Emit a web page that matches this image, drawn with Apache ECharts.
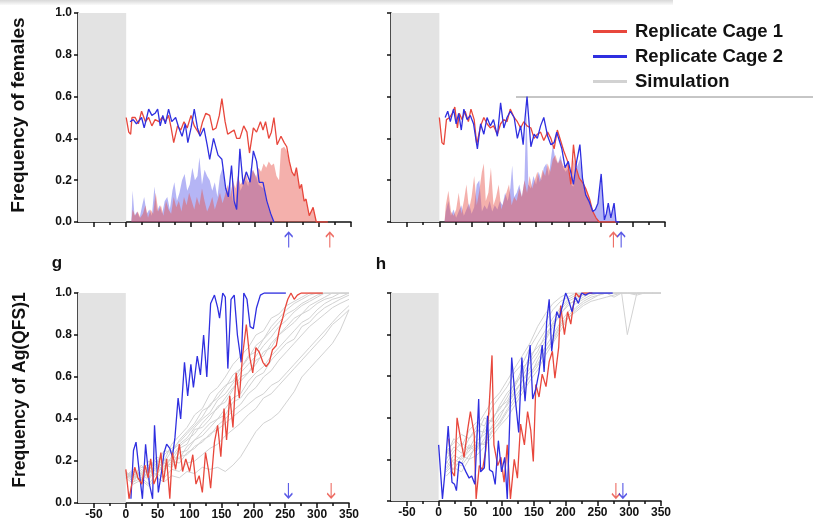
<!DOCTYPE html>
<html><head><meta charset="utf-8">
<script src="https://cdn.jsdelivr.net/npm/echarts@6/dist/echarts.min.js"></script>
<style>html,body{margin:0;padding:0;background:#fff}#c{width:813px;height:524px}</style>
</head><body><div id="c"></div><script>
// ---------- tick labels ----------
const majorTicks = [-50,0,50,100,150,200,250,300,350];
const minorTicks = [-25,25,75,125,175,225,275,325];
const legendNames = ['Replicate Cage 1','Replicate Cage 2','Simulation'];

// ---------- top-left: frequency of females ----------
const femCage1Left = [[0,.50],[4,.43],[7,.42],[9,.50],[14,.50],[19,.47],[24,.53],[30,.48],[35,.50],[40,.46],[45,.49],[51,.48],[56,.50],[61,.48],[66,.51],[70,.45],[74,.38],[80,.46],[85,.44],[90,.48],[95,.45],[101,.51],[106,.46],[114,.42],[119,.48],[124,.52],[130,.51],[135,.44],[140,.45],[145,.51],[149,.59],[154,.48],[158,.42],[163,.43],[168,.44],[172,.40],[177,.40],[183,.46],[188,.43],[192,.33],[198,.45],[203,.43],[209,.48],[213,.44],[217,.48],[222,.40],[226,.43],[230,.50],[235,.37],[241,.41],[246,.38],[250,.36],[254,.29],[258,.24],[262,.22],[265,.26],[270,.16],[273,.18],[277,.10],[280,.11],[285,.03],[291,.07],[296,0],[314,0]];
const femCage2Left = [[6,.48],[11,.49],[16,.47],[19,.48],[24,.50],[28,.45],[32,.50],[35,.54],[40,.51],[45,.52],[49,.54],[53,.46],[57,.51],[61,.47],[66,.54],[71,.48],[77,.50],[82,.45],[87,.41],[92,.47],[96,.38],[101,.45],[106,.54],[111,.45],[115,.41],[121,.45],[126,.37],[130,.30],[136,.40],[143,.32],[149,.30],[155,.16],[159,.12],[164,.27],[168,.10],[172,.06],[177,.35],[182,.18],[187,.24],[193,.19],[198,.34],[203,.29],[207,.19],[213,.19],[219,.10],[225,.04],[230,0]];
const femAreaCage1Left = [[8,0],[10,.06],[14,.03],[18,.05],[22,.02],[26,.04],[30,.08],[34,.02],[38,.06],[42,.04],[46,.14],[50,.05],[54,.08],[58,.03],[62,.10],[66,.06],[70,.04],[74,.12],[78,.07],[82,.10],[86,.05],[90,.12],[94,.08],[98,.14],[102,.10],[106,.06],[110,.12],[114,.08],[118,.16],[122,.10],[126,.05],[130,.08],[134,.12],[138,.06],[142,.10],[146,.14],[150,.09],[154,.13],[158,.18],[162,.12],[166,.20],[170,.16],[174,.22],[178,.18],[182,.20],[186,.24],[190,.19],[194,.22],[198,.25],[202,.21],[206,.26],[210,.24],[214,.28],[218,.26],[222,.29],[226,.27],[230,.28],[234,.22],[238,.20],[241,.35],[246,.36],[250,.34],[254,.29],[258,.24],[262,.22],[265,.26],[270,.16],[273,.18],[277,.10],[280,.11],[285,.03],[291,.07],[296,0]];
const femAreaCage2Left = [[8,0],[10,.15],[13,.03],[17,.05],[21,.02],[25,.08],[28,.12],[32,.04],[36,.06],[40,.03],[44,.17],[48,.05],[52,.08],[56,.04],[60,.10],[64,.12],[68,.06],[72,.15],[75,.19],[79,.10],[83,.14],[87,.20],[91,.23],[95,.15],[99,.18],[103,.26],[107,.20],[111,.22],[114,.31],[118,.18],[122,.25],[126,.22],[130,.20],[134,.15],[138,.19],[142,.12],[146,.22],[150,.26],[154,.18],[158,.14],[162,.20],[166,.10],[170,.08],[174,.22],[178,.15],[182,.18],[186,.20],[190,.17],[194,.26],[198,.24],[202,.22],[206,.18],[210,.17],[214,.16],[218,.10],[222,.06],[226,.03],[230,0]];

// ---------- top-right: frequency of females ----------
const femCage1Right = [[0,.50],[4,.38],[7,.37],[11,.49],[16,.50],[20,.52],[24,.55],[28,.45],[31,.52],[35,.49],[40,.53],[45,.48],[49,.54],[54,.49],[58,.37],[64,.46],[69,.50],[74,.47],[79,.45],[84,.46],[90,.42],[95,.47],[100,.49],[105,.48],[110,.54],[116,.50],[121,.48],[126,.45],[131,.48],[136,.46],[142,.45],[147,.40],[152,.42],[157,.43],[162,.39],[168,.43],[173,.40],[178,.35],[183,.44],[188,.39],[193,.34],[199,.29],[204,.18],[208,.37],[212,.26],[217,.21],[222,.19],[227,.16],[233,.11],[238,.05],[243,.02],[248,0],[276,0]];
const femCage2Right = [[9,.50],[13,.53],[17,.48],[22,.54],[26,.47],[30,.52],[34,.44],[38,.54],[43,.49],[48,.51],[53,.47],[59,.35],[64,.47],[69,.42],[74,.50],[79,.46],[84,.49],[90,.41],[95,.57],[100,.45],[105,.50],[110,.53],[116,.50],[121,.40],[126,.46],[130,.37],[133,.50],[136,.60],[142,.36],[147,.42],[152,.40],[157,.46],[162,.50],[168,.41],[173,.37],[178,.38],[182,.43],[186,.39],[190,.35],[195,.26],[200,.29],[208,.18],[213,.29],[218,.37],[222,.21],[227,.13],[232,.10],[238,.05],[242,.06],[246,.09],[251,.23],[256,.01],[259,.04],[262,.09],[266,.02],[271,.09],[274,0],[279,0]];
const femAreaCage1Right = [[8,0],[10,.08],[14,.15],[18,.05],[22,.03],[26,.06],[30,.14],[34,.04],[38,.10],[42,.18],[46,.06],[50,.12],[54,.22],[58,.08],[62,.15],[66,.24],[69,.28],[72,.10],[76,.14],[80,.26],[84,.08],[88,.12],[92,.18],[96,.06],[100,.10],[104,.14],[108,.18],[112,.08],[116,.12],[120,.10],[124,.16],[128,.12],[132,.20],[136,.14],[140,.22],[144,.16],[148,.20],[152,.24],[156,.19],[160,.25],[164,.22],[168,.28],[172,.24],[176,.30],[180,.32],[184,.28],[188,.30],[192,.27],[196,.26],[200,.28],[204,.18],[208,.30],[212,.26],[217,.21],[222,.19],[227,.16],[233,.11],[238,.05],[243,.02],[248,0]];
const femAreaCage2Right = [[8,0],[10,.05],[14,.10],[18,.03],[22,.06],[26,.02],[30,.05],[34,.08],[38,.03],[42,.06],[46,.09],[50,.04],[54,.07],[58,.18],[62,.20],[66,.05],[70,.08],[74,.06],[78,.10],[82,.05],[86,.08],[90,.06],[94,.10],[98,.08],[102,.14],[106,.10],[110,.16],[113,.27],[116,.12],[120,.14],[124,.18],[128,.12],[132,.20],[135,.55],[138,.18],[142,.16],[146,.22],[150,.18],[154,.24],[158,.20],[162,.26],[166,.28],[170,.22],[173,.30],[176,.37],[180,.30],[184,.28],[188,.32],[192,.26],[196,.24],[200,.26],[204,.18],[208,.17],[213,.26],[218,.30],[222,.20],[227,.13],[232,.10],[238,.05],[242,.06],[246,.09],[251,.20],[256,.01],[259,.04],[262,.08],[266,.02],[271,.08],[274,0]];

// ---------- g: frequency of Ag(QFS)1 ----------
const agCage1G = [[0,.16],[5,.02],[10,.10],[14,.17],[19,.12],[25,.09],[30,.18],[35,.12],[39,.21],[44,.09],[49,.13],[55,.24],[59,.10],[64,.21],[69,.02],[73,.24],[78,.16],[84,.28],[89,.15],[94,.21],[100,.15],[105,.23],[110,.09],[115,.13],[120,.05],[125,.24],[130,.15],[133,.07],[139,.29],[144,.37],[149,.22],[154,.45],[158,.30],[163,.51],[168,.36],[173,.62],[178,.50],[183,.70],[189,.85],[194,.70],[199,.62],[204,.74],[209,.72],[215,.67],[220,.65],[225,.67],[230,.73],[236,.75],[241,.83],[246,.88],[250,.93],[254,.97],[259,1],[264,.97],[269,.99],[275,1],[309,1]];
const agCage2G = [[8,.02],[12,.25],[16,.29],[21,.15],[26,.02],[31,.28],[37,.09],[42,.02],[45,.37],[51,.05],[56,.15],[60,.24],[64,.28],[69,.26],[73,.22],[77,.31],[82,.50],[86,.40],[92,.67],[97,.51],[102,.66],[106,.55],[112,.70],[117,.61],[122,.80],[127,.60],[133,.95],[139,.99],[144,.93],[147,.88],[152,1],[156,.98],[160,.64],[165,.97],[170,.99],[175,.80],[181,.67],[185,1],[190,.97],[195,.84],[200,.83],[205,.93],[211,.99],[217,1],[251,1]];
const simDaysG = [0,12,24,36,48,60,72,84,96,108,120,132,144,156,168,180,192,204,216,228,240,252,264,276,288,300,312,324,336,350];
const simG = [
 [.14,.12,.18,.15,.22,.20,.28,.32,.36,.42,.45,.52,.55,.60,.66,.70,.74,.80,.82,.88,.90,.94,.96,.98,1,1,1,1,1,1],
 [.12,.15,.13,.20,.18,.25,.24,.30,.34,.38,.44,.46,.52,.56,.58,.64,.70,.72,.78,.82,.86,.90,.92,.95,.97,.99,1,1,1,1],
 [.15,.10,.16,.14,.19,.17,.22,.27,.30,.33,.38,.42,.45,.50,.55,.58,.62,.68,.70,.76,.80,.84,.88,.90,.94,.96,.98,1,1,1],
 [.13,.16,.12,.17,.15,.21,.20,.26,.28,.35,.36,.40,.46,.48,.54,.60,.62,.66,.72,.74,.80,.83,.86,.90,.92,.95,.97,.98,1,1],
 [.14,.11,.15,.12,.18,.16,.22,.21,.27,.30,.34,.38,.40,.45,.50,.52,.58,.62,.65,.70,.74,.78,.82,.86,.88,.92,.95,.97,.98,1],
 [.12,.14,.10,.16,.13,.19,.18,.24,.25,.30,.32,.36,.40,.42,.48,.50,.55,.60,.62,.68,.72,.76,.78,.84,.86,.90,.93,.95,.97,.99],
 [.15,.12,.14,.11,.17,.15,.20,.19,.24,.26,.30,.32,.37,.40,.44,.47,.52,.55,.60,.63,.68,.72,.76,.80,.84,.87,.90,.93,.95,.97],
 [.13,.10,.12,.09,.14,.12,.16,.15,.19,.20,.23,.26,.28,.32,.35,.38,.42,.45,.50,.52,.56,.60,.64,.68,.72,.76,.80,.85,.88,.92],
 [.12,.09,.11,.08,.12,.10,.13,.12,.15,.14,.17,.16,.17,.15,.18,.22,.28,.34,.38,.40,.43,.48,.53,.60,.64,.68,.72,.76,.82,.92],
 [.14,.13,.17,.16,.20,.19,.25,.28,.31,.36,.40,.43,.49,.52,.57,.62,.66,.70,.75,.79,.84,.87,.91,.94,.96,.98,1,1,1,1],
 [.12,.13,.11,.15,.14,.18,.17,.22,.23,.27,.29,.33,.35,.38,.41,.44,.47,.50,.52,.56,.58,.62,.66,.70,.74,.78,.82,.86,.90,.94],
 [.13,.15,.14,.18,.20,.23,.26,.29,.33,.37,.41,.47,.50,.55,.61,.64,.69,.75,.78,.84,.88,.92,.95,.97,.99,1,1,1,1,1]
];

// ---------- h: frequency of Ag(QFS)1 ----------
const agCage1H = [[16,.30],[21,.14],[25,.12],[29,.40],[35,.29],[40,.21],[45,.33],[50,.43],[56,.32],[59,.01],[64,.17],[69,.15],[74,.24],[79,.43],[84,.70],[87,.27],[93,.17],[98,.21],[103,.09],[108,.27],[113,.01],[119,.20],[124,.11],[129,.37],[135,.27],[140,.43],[145,.34],[149,.19],[153,.56],[158,.50],[163,.61],[169,.55],[174,.67],[179,.72],[183,.59],[189,.74],[192,.94],[198,.80],[203,.91],[208,.85],[212,.94],[216,1],[221,.98],[226,1],[232,1],[242,1]];
const agCage2H = [[0,.27],[6,.01],[10,.14],[15,.36],[21,.09],[25,.08],[28,.05],[32,.19],[37,.18],[43,.14],[48,.11],[52,.12],[57,.08],[63,.49],[66,.14],[72,.16],[77,.41],[80,.15],[85,.14],[89,.08],[94,.29],[99,.14],[104,.21],[108,.01],[115,.69],[120,.51],[126,.33],[131,.69],[136,.48],[140,.64],[144,.75],[148,.49],[153,.54],[158,.62],[163,.75],[166,.62],[170,.86],[174,.97],[178,.72],[182,.83],[186,.91],[190,.88],[195,.94],[200,1],[204,.97],[210,.91],[215,.98],[220,.95],[225,1],[231,.99],[237,1],[274,1]];
const simDaysH = [12,24,36,48,60,72,84,96,108,120,132,144,156,168,180,192,204,216,228,240,252,264,276,288,297,312,324,336,350];
const simH = [
 [.22,.30,.26,.34,.38,.36,.45,.50,.55,.62,.66,.74,.80,.86,.92,.96,.98,1,1,1,1,1,1,1,1,1,1,1,1],
 [.18,.24,.28,.25,.32,.40,.38,.46,.52,.56,.64,.68,.76,.82,.88,.93,.97,.99,1,1,1,1,1,1,1,1,1,1,1],
 [.15,.20,.18,.26,.24,.30,.36,.42,.46,.52,.58,.64,.70,.77,.84,.90,.94,.97,.99,1,1,1,1,1,1,1,1,1,1],
 [.25,.18,.22,.20,.28,.27,.33,.38,.44,.50,.55,.60,.68,.74,.80,.86,.91,.95,.97,.99,1,1,1,1,1,1,1,1,1],
 [.12,.16,.14,.20,.22,.26,.31,.36,.40,.46,.52,.58,.63,.70,.76,.82,.88,.92,.95,.97,.99,1,1,1,.80,1,1,1,1],
 [.20,.26,.23,.30,.34,.33,.40,.44,.50,.57,.60,.67,.72,.80,.85,.90,.95,.96,.98,1,1,1,1,1,1,1,1,1,1],
 [.16,.22,.20,.24,.29,.32,.35,.40,.47,.53,.58,.62,.66,.72,.78,.85,.89,.93,.96,.98,.99,1,.98,1,1,1,1,1,1],
 [.24,.28,.32,.30,.36,.42,.48,.52,.58,.64,.70,.76,.84,.90,.95,.98,1,1,1,1,1,1,1,1,1,1,1,1,1],
 [.14,.18,.17,.22,.26,.28,.34,.37,.43,.48,.54,.60,.65,.72,.77,.84,.88,.91,.94,.96,.97,.98,.99,1,1,.99,1,1,1],
 [.19,.15,.21,.27,.25,.35,.39,.45,.48,.55,.62,.70,.74,.78,.86,.92,.96,.98,1,1,1,1,1,1,1,1,1,1,1]
];

// ---------- arrow (day) markers: [cage1, cage2] per panel ----------
const arrowDaysTopLeft = [317, 253];
const arrowDaysTopRight = [270, 282];
const arrowDaysG = [322, 255];
const arrowDaysH = [279, 290];

// ---------- styling ----------
const RED = '#e8473c', BLUE = '#2f2fe0', GRAY = '#d2d2d2';
const FONT = 'Liberation Sans, Arial, sans-serif';
const AX = {color:'#111', width:1.5};

const grids = [
  {left:78, top:13, width:273, height:209},
  {left:391, top:13, width:274, height:209},
  {left:78, top:293, width:271, height:210},
  {left:391, top:293, width:270, height:208}
];
const xAxes = [], yAxes = [];
for (let i = 0; i < 4; i++) {
  const bottomRow = i >= 2, leftCol = (i % 2 === 0);
  xAxes.push({type:'value', gridIndex:i, min:-75, max:350, position:'bottom',
    axisLine:{show:true, onZero:false, lineStyle:AX},
    axisTick:{show:true, customValues:majorTicks, length:5, lineStyle:AX},
    axisLabel:{show:bottomRow, customValues:majorTicks, color:'#111', fontFamily:FONT, fontWeight:'bold', fontSize:12, margin:6},
    splitLine:{show:false}});
  yAxes.push({type:'value', gridIndex:i, min:0, max:1, interval:0.2,
    axisLine:{show:true, onZero:false, lineStyle:AX},
    axisTick:{show:true, length:4, lineStyle:AX},
    axisLabel:{show:leftCol, formatter:v=>v.toFixed(1), color:'#111', fontFamily:FONT, fontWeight:'bold', fontSize:12, margin:6},
    splitLine:{show:false}});
}
for (let i = 0; i < 4; i++) {
  xAxes.push({type:'value', gridIndex:i, min:-75, max:350, position:'bottom',
    axisLine:{show:false}, axisTick:{show:true, customValues:minorTicks, length:3, lineStyle:AX},
    axisLabel:{show:false}, splitLine:{show:false}});
}

const band = {silent:true, itemStyle:{color:'#e3e3e3'}, data:[[{coord:[-75,0]},{coord:[0,1]}]]};
const series = [];
function line(name, gi, data, color, width, extra) {
  return Object.assign({name, type:'line', xAxisIndex:gi, yAxisIndex:gi, data, symbol:'none', showSymbol:false,
    lineStyle:{color, width}, itemStyle:{color}, silent:true, animation:false}, extra || {});
}
function area(name, gi, data, color) {
  return {name, type:'line', xAxisIndex:gi, yAxisIndex:gi, data, symbol:'none', showSymbol:false,
    lineStyle:{width:0, color}, itemStyle:{color}, areaStyle:{color, opacity:1}, silent:true, animation:false};
}
const pairs = (days, vals) => days.map((d, k) => [d, vals[k]]);
const upArrow = 'path://M4,0 L4,15 M0,4.5 L4,0 L8,4.5';
const downArrow = 'path://M4,0 L4,15 M0,10.5 L4,15 L8,10.5';
function arrows(gi, days, yv, sym) {
  return {name:'arrows', type:'scatter', xAxisIndex:gi, yAxisIndex:gi, clip:false, silent:true, animation:false,
    symbol:sym, symbolSize:[8,15],
    data:[{value:[days[0], yv], itemStyle:{color:'rgba(0,0,0,0)', borderColor:RED, borderWidth:1.5}},
          {value:[days[1], yv], itemStyle:{color:'rgba(0,0,0,0)', borderColor:BLUE, borderWidth:1.5}}]};
}

// top-left
series.push(Object.assign(area('Cage 2 females (area)', 0, femAreaCage2Left, 'rgba(70,70,230,0.4)'), {markArea:band}));
series.push(area('Cage 1 females (area)', 0, femAreaCage1Left, 'rgba(230,80,70,0.45)'));
series.push(line('Replicate Cage 1', 0, femCage1Left, RED, 1.3));
series.push(line('Replicate Cage 2', 0, femCage2Left, BLUE, 1.3));
series.push(arrows(0, arrowDaysTopLeft, -0.086, upArrow));
// top-right
series.push(Object.assign(area('Cage 2 females (area)', 1, femAreaCage2Right, 'rgba(70,70,230,0.4)'), {markArea:band}));
series.push(area('Cage 1 females (area)', 1, femAreaCage1Right, 'rgba(230,80,70,0.45)'));
series.push(line('Replicate Cage 1', 1, femCage1Right, RED, 1.3));
series.push(line('Replicate Cage 2', 1, femCage2Right, BLUE, 1.3));
series.push(arrows(1, arrowDaysTopRight, -0.086, upArrow));
// g
simG.forEach((v, k) => series.push(line('Simulation', 2, pairs(simDaysG, v), GRAY, 1, k === 0 ? {markArea:band} : {})));
series.push(line('Replicate Cage 2', 2, agCage2G, BLUE, 1.3));
series.push(line('Replicate Cage 1', 2, agCage1G, RED, 1.3));
series.push(arrows(2, arrowDaysG, 0.06, downArrow));
// h
simH.forEach((v, k) => series.push(line('Simulation', 3, pairs(simDaysH, v), GRAY, 1, k === 0 ? {markArea:band} : {})));
series.push(line('Replicate Cage 1', 3, agCage1H, RED, 1.3));
series.push(line('Replicate Cage 2', 3, agCage2H, BLUE, 1.3));
series.push(arrows(3, arrowDaysH, 0.05, downArrow));

const chart = echarts.init(document.getElementById('c'), null, {renderer:'canvas'});
chart.setOption({
  animation:false,
  backgroundColor:'#fff',
  grid:grids, xAxis:xAxes, yAxis:yAxes, series,
  legend:{data:legendNames, orient:'vertical', left:593, top:22, padding:0, icon:'rect', itemWidth:34, itemHeight:3,
    itemGap:6, selectedMode:false,
    textStyle:{color:'#111', fontFamily:FONT, fontWeight:'bold', fontSize:18.5, padding:[0,0,0,3]}},
  graphic:[
    {type:'rect', left:0, top:0, shape:{width:673, height:5}, silent:true,
      style:{fill:new echarts.graphic.LinearGradient(0,0,0,1,[{offset:0,color:'#d8d8d8'},{offset:1,color:'#fafafa'}])}},
    {type:'line', shape:{x1:516, y1:97, x2:813, y2:97}, silent:true, style:{stroke:'#8c8c8c', lineWidth:1}},
    {type:'text', x:19, y:115, rotation:Math.PI/2, silent:true,
      style:{text:'Frequency of females', font:'bold 19px '+FONT, fill:'#111', align:'center', verticalAlign:'middle'}},
    {type:'text', x:20, y:390, rotation:Math.PI/2, silent:true,
      style:{text:'Frequency of Ag(QFS)1', font:'bold 17.5px '+FONT, fill:'#111', align:'center', verticalAlign:'middle'}},
    {type:'text', x:57, y:263, silent:true,
      style:{text:'g', font:'bold 17px '+FONT, fill:'#111', align:'center', verticalAlign:'middle'}},
    {type:'text', x:381, y:264, silent:true,
      style:{text:'h', font:'bold 17px '+FONT, fill:'#111', align:'center', verticalAlign:'middle'}}
  ]
});
</script></body></html>
